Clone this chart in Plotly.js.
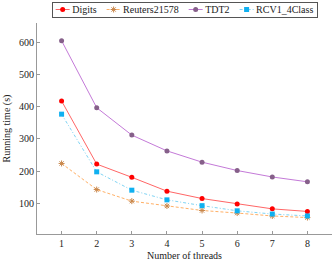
<!DOCTYPE html>
<html>
<head>
<meta charset="utf-8">
<script src="https://cdn.plot.ly/plotly-3.0.1.min.js"></script>
<style>html,body{margin:0;padding:0;background:#fff;}#chart{width:334px;height:261px;}</style>
</head>
<body>
<div id="chart"></div>
<script>
var threads = [1, 2, 3, 4, 5, 6, 7, 8];
var digits = [418, 222, 181, 138, 115, 98, 83, 75];
var reuters = [224, 143, 107, 92, 78, 70, 61, 56];
var tdt2 = [605, 397, 312, 263, 228, 202, 182, 167];
var rcv1 = [377, 198, 141, 111, 93, 77, 67, 61];
var xTicks = [1, 2, 3, 4, 5, 6, 7, 8];
var yTicks = [100, 200, 300, 400, 500, 600];

var font = "Liberation Serif, DejaVu Serif, serif";
var traces = [
  {x: threads, y: digits, name: "Digits", mode: "lines+markers",
   line: {color: "#ff6666", width: 1}, marker: {color: "#ff0000", size: 5, symbol: "circle"}},
  {x: threads, y: reuters, name: "Reuters21578", mode: "lines+markers",
   line: {color: "#ffb066", width: 1, dash: "3px,2px"}, marker: {color: "#c8864a", size: 5, symbol: "asterisk-open", line: {color: "#c8864a", width: 1}}},
  {x: threads, y: tdt2, name: "TDT2", mode: "lines+markers",
   line: {color: "#c47ad8", width: 1}, marker: {color: "#86608a", size: 5, symbol: "circle"}},
  {x: threads, y: rcv1, name: "RCV1_4Class", mode: "lines+markers",
   line: {color: "#80d4f4", width: 1, dash: "3px,2px,1px,2px"}, marker: {color: "#10b0f0", size: 5, symbol: "square"}}
];
var layout = {
  width: 334, height: 261,
  margin: {l: 37, r: 2, t: 23, b: 27},
  paper_bgcolor: "#fff", plot_bgcolor: "#fff",
  font: {family: font, size: 10, color: "#222"},
  showlegend: true,
  legend: {orientation: "h", x: 0.5, xanchor: "center", y: 1.1, yanchor: "top",
           bordercolor: "#555", borderwidth: 1, font: {size: 10}, itemwidth: 30,
           tracegroupgap: 0},
  xaxis: {range: [0.3, 8.7], tickvals: xTicks, ticktext: xTicks.map(String),
          showgrid: false, zeroline: false, showline: true, linecolor: "#999", linewidth: 1,
          ticks: "inside", ticklen: 3, tickcolor: "#999",
          title: {text: "Number of threads", font: {size: 10}, standoff: 3}},
  yaxis: {range: [5, 660], tickvals: yTicks, ticktext: yTicks.map(String),
          showgrid: false, zeroline: false, showline: true, linecolor: "#999", linewidth: 1,
          ticks: "inside", ticklen: 3, tickcolor: "#999",
          title: {text: "Running time (s)", font: {size: 10}, standoff: 6}}
};

// Compact the legend into one row like the pgfplots legend
function compactLegend(gd) {
  var leg = gd.querySelector(".legend");
  if (!leg) return;
  var items = leg.querySelectorAll(".traces");
  var m = 9, half = 7, textGap = 9.5, itemGap = 8, pad = 2;
  var x = pad;
  items.forEach(function (it) {
    it.querySelectorAll(".legendlines path").forEach(function (p) {
      p.setAttribute("d", "M" + (m - half) + ",0h" + (2 * half));
    });
    it.querySelectorAll(".legendpoints path").forEach(function (p) {
      p.setAttribute("transform", "translate(" + m + ",0)");
    });
    var t = it.querySelector(".legendtext");
    t.setAttribute("x", m + textGap);
    t.querySelectorAll("tspan").forEach(function (s) { if (s.hasAttribute("x")) s.setAttribute("x", m + textGap); });
    var w = t.getComputedTextLength();
    var tog = it.querySelector(".legendtoggle");
    if (tog) tog.setAttribute("width", m + textGap + w);
    it.setAttribute("transform", "translate(" + x + ",7.5)");
    x += m + textGap + w + itemGap;
  });
  var total = x - itemGap + pad + 2;
  var H = 15;
  var bg = leg.querySelector(".bg");
  bg.setAttribute("width", total);
  bg.setAttribute("height", H);
  bg.setAttribute("x", 0.5); bg.setAttribute("y", 0.5);
  var sb = leg.querySelector(".scrollbox");
  if (sb) { sb.removeAttribute("clip-path"); sb.setAttribute("transform", "translate(0,0)"); }
  var gs = leg.querySelector(".groups");
  if (gs) gs.setAttribute("transform", "translate(0,0)");
  var fs = gd._fullLayout._size;
  var cx = fs.l + fs.w / 2;
  leg.setAttribute("transform", "translate(" + (cx - total / 2) + ",2)");
}

Plotly.newPlot("chart", traces, layout, {displayModeBar: false, staticPlot: true}).then(function (gd) {
  compactLegend(gd);
});
</script>
</body>
</html>
